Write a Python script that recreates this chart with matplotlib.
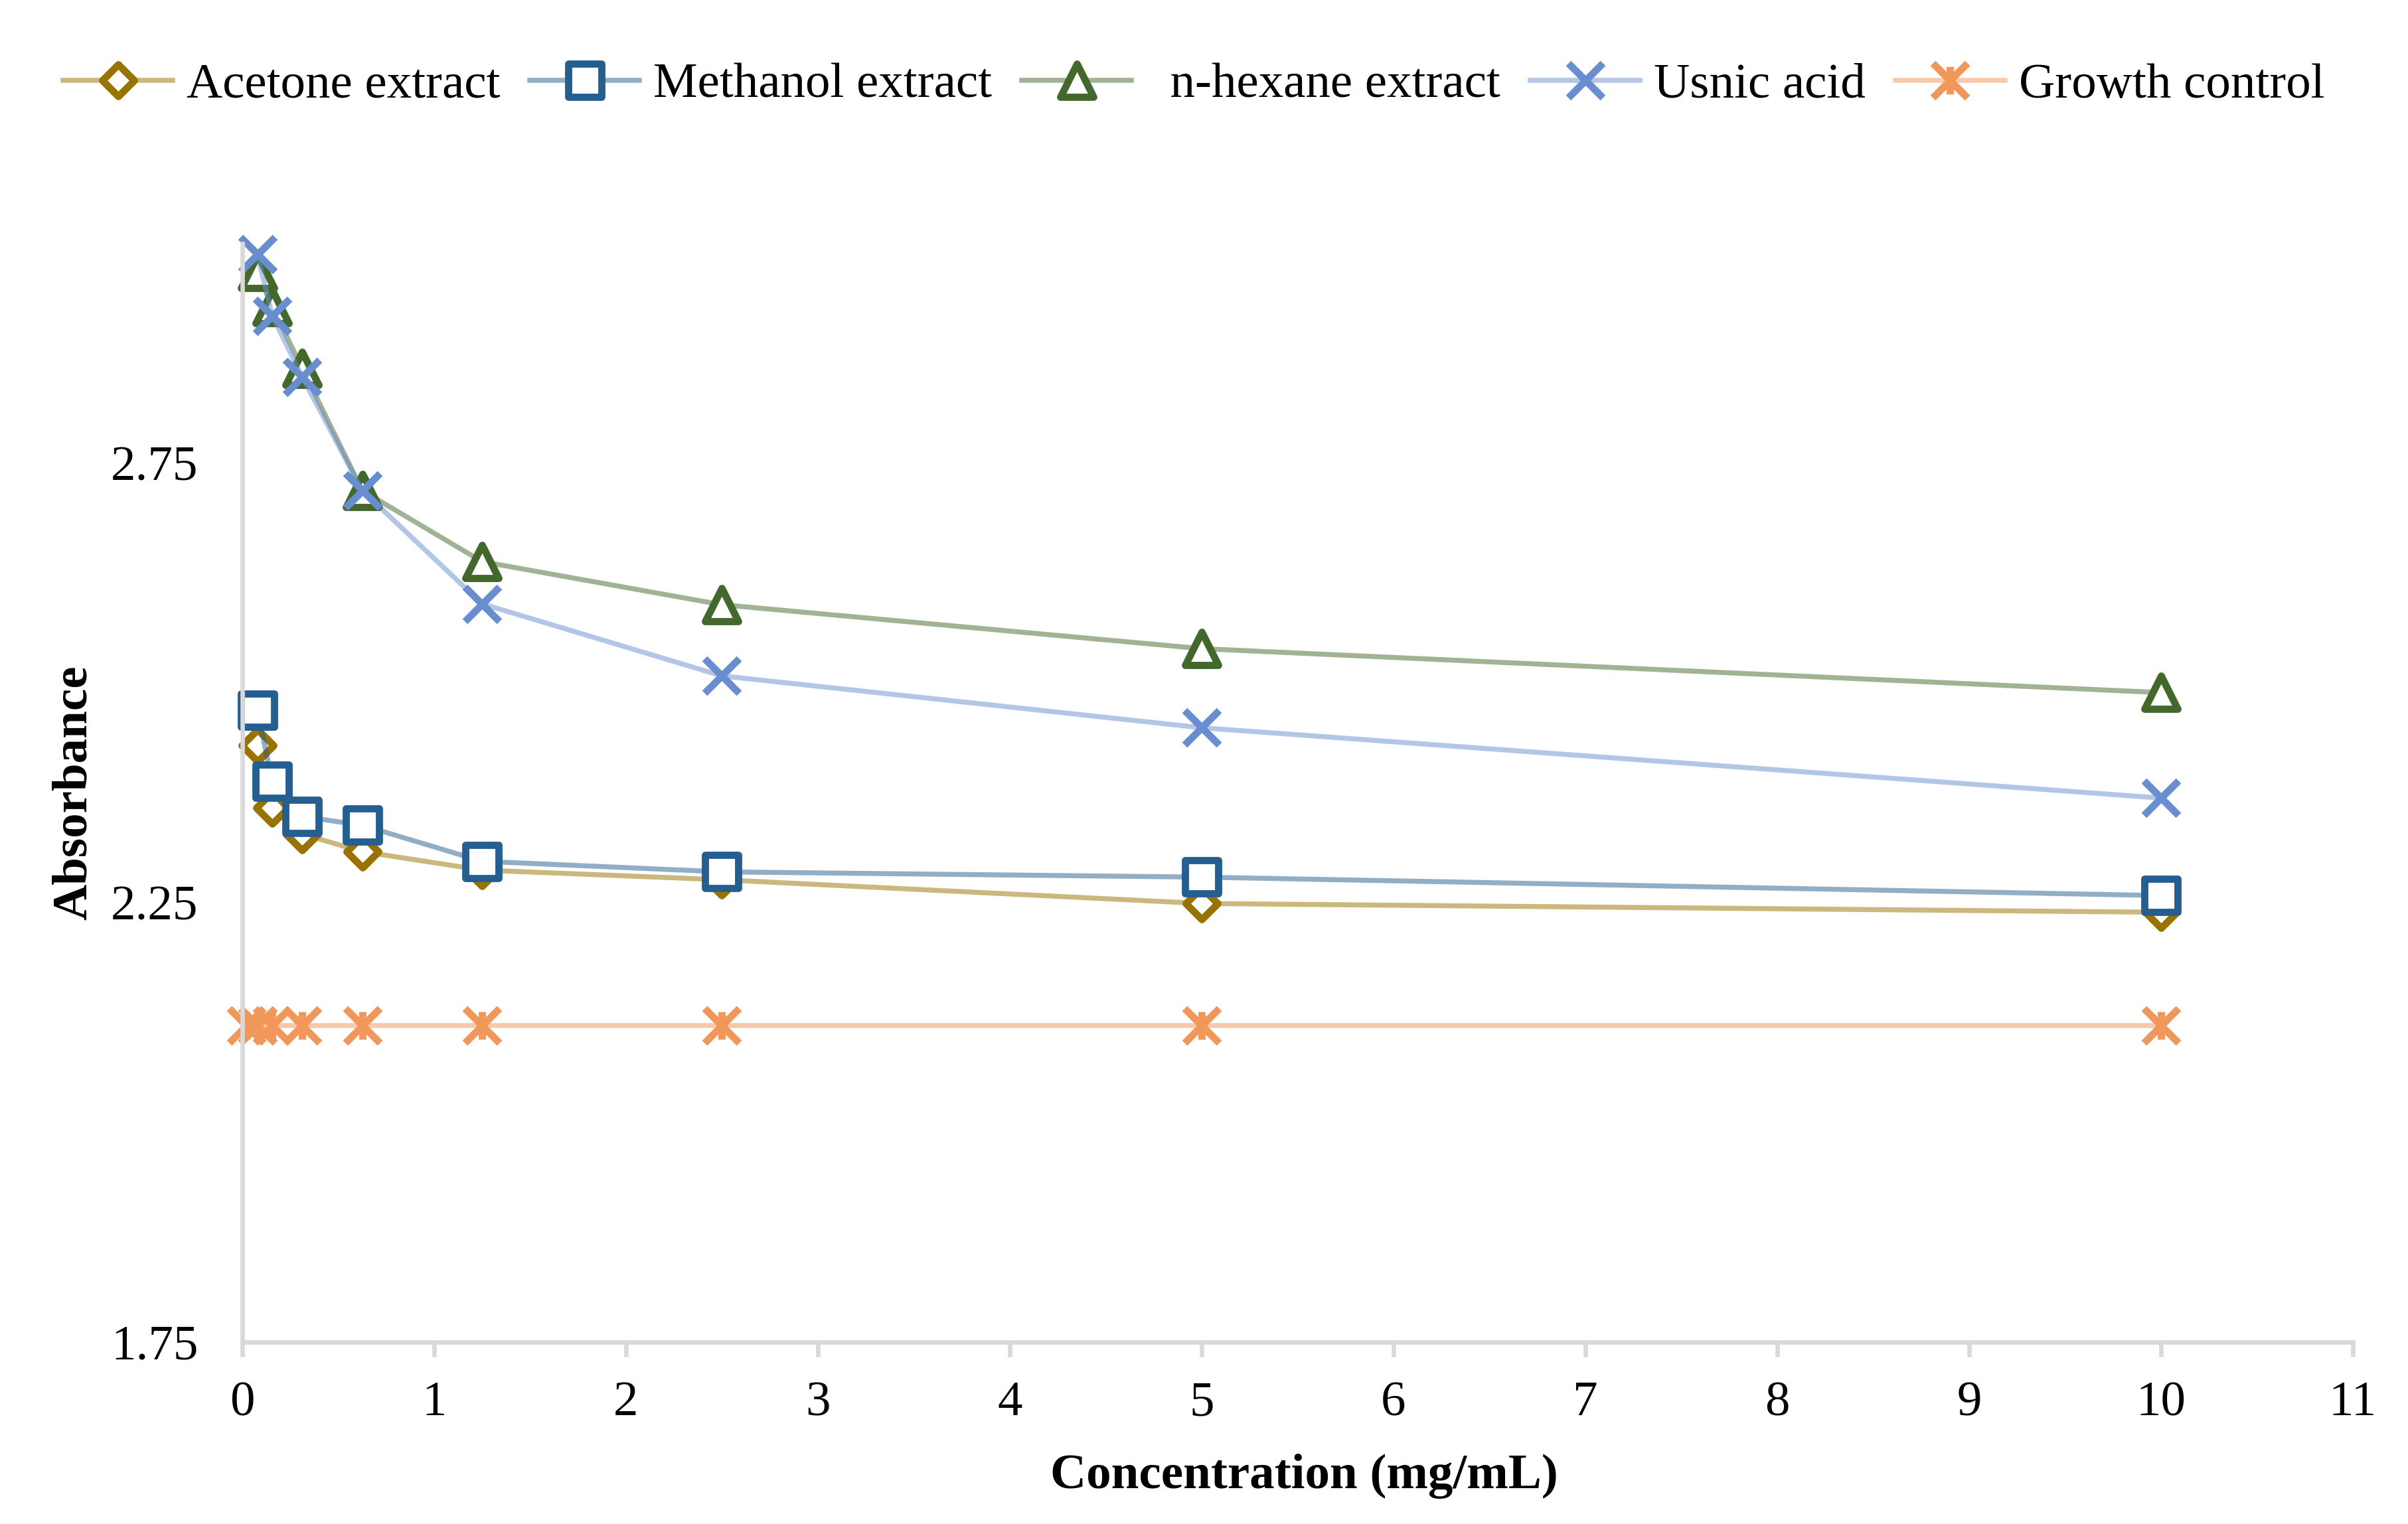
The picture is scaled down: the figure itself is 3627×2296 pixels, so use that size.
import matplotlib
matplotlib.use('Agg')
import matplotlib.pyplot as plt
from matplotlib.colors import to_rgba
from matplotlib.markers import MarkerStyle
from matplotlib.path import Path

plt.rcParams['font.family'] = ['Liberation Serif', 'DejaVu Serif']
plt.rcParams['font.size'] = 18

# data
conc = [0.078, 0.156, 0.3125, 0.625, 1.25, 2.5, 5, 10]
acetone = [2.429, 2.358, 2.328, 2.308, 2.287, 2.276, 2.249, 2.239]
methanol = [2.469, 2.388, 2.348, 2.338, 2.297, 2.285, 2.279, 2.258]
hexane = [2.968, 2.928, 2.858, 2.719, 2.638, 2.589, 2.539, 2.489]
usnic = [2.988, 2.918, 2.848, 2.719, 2.590, 2.508, 2.449, 2.369]

gc_conc = [0.0195, 0.078, 0.156, 0.3125, 0.625, 1.25, 2.5, 5, 10]
growth = [2.11, 2.11, 2.11, 2.11, 2.11, 2.11, 2.11, 2.11, 2.11]

x_ticks = list(range(0, 12))
y_ticks = [1.75, 2.25, 2.75]
y_ticklabels = ['1.75', '2.25', '2.75']

# asterisk marker = X plus a vertical bar
ast_path = Path([(-1, -1), (1, 1), (-1, 1), (1, -1), (0, -0.8), (0, 0.8)],
                [Path.MOVETO, Path.LINETO] * 3)

fig = plt.figure(figsize=(3627 / 300, 2296 / 300), dpi=300)
ax = fig.add_axes([0.10063, 0.11947, 0.87648, 0.72069])

series = [
    (conc, acetone, 'Acetone extract', '#997300', MarkerStyle('D', joinstyle='round'), 8.3, 'white'),
    (conc, methanol, 'Methanol extract', '#255E91', MarkerStyle('s', joinstyle='round'), 11.8, 'white'),
    (conc, hexane, '  n-hexane extract', '#43682B', MarkerStyle('^', joinstyle='round'), 11.8, 'white'),
    (conc, usnic, 'Usnic acid', '#698ED0', MarkerStyle('x'), 12.5, 'none'),
    (gc_conc, growth, 'Growth control', '#F1975A', MarkerStyle(ast_path), 12.5, 'none'),
]

for xs, ys, lab, col, mk, ms, fc in series:
    ax.plot(xs, ys, color=to_rgba(col, 0.5), lw=1.8, marker=mk, ms=ms,
            mec=col, mfc=fc, mew=2.6, label=lab, clip_on=False)

ax.set_xlim(0, 11)
ax.set_ylim(1.75, 3.0)
ax.set_xticks(x_ticks)
ax.set_yticks(y_ticks)
ax.set_yticklabels(y_ticklabels)

for s in ['top', 'right']:
    ax.spines[s].set_visible(False)
for s in ['left', 'bottom']:
    ax.spines[s].set_color('#D9D9D9')
    ax.spines[s].set_linewidth(1.6)

ax.tick_params(axis='x', direction='out', length=5.2, width=1.6, color='#D9D9D9', pad=9, labelsize=18)
ax.tick_params(axis='y', length=0, pad=16, labelsize=18)

ax.set_xlabel('Concentration (mg/mL)', fontweight='bold', fontsize=18)
ax.set_ylabel('Absorbance', fontweight='bold', fontsize=18)
ax.xaxis.set_label_coords(0.503, -0.102)
ax.yaxis.set_label_coords(-0.069, 0.5)

fig.legend(loc='center', bbox_to_anchor=(0.4958, 0.944), ncol=5, frameon=False,
           handlelength=2.2, handletextpad=0.28, columnspacing=0.6, fontsize=18)

fig.savefig('out.png', dpi=300)
